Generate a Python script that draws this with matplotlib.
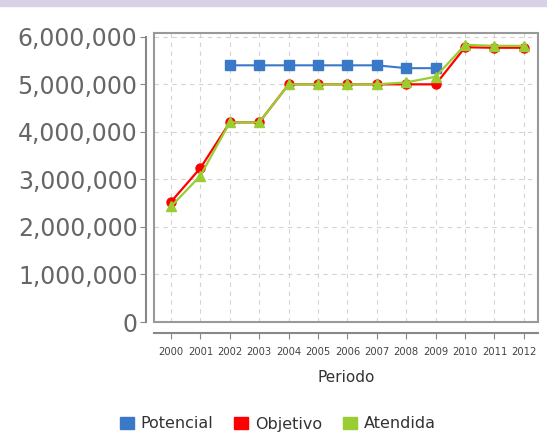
import matplotlib.pyplot as plt
from matplotlib.patches import Rectangle
from matplotlib.ticker import FuncFormatter

# data
periodos = ['2000', '2001', '2002', '2003', '2004', '2005', '2006',
            '2007', '2008', '2009', '2010', '2011', '2012']
potencial = [None, None, 5.40e6, 5.40e6, 5.40e6, 5.40e6, 5.40e6,
             5.40e6, 5.34e6, 5.34e6, None, None, None]
objetivo = [2.53e6, 3.24e6, 4.20e6, 4.20e6, 5.00e6, 5.00e6, 5.00e6,
            5.00e6, 5.00e6, 5.00e6, 5.78e6, 5.77e6, 5.77e6]
atendida = [2.43e6, 3.08e6, 4.20e6, 4.20e6, 5.00e6, 5.00e6, 5.00e6,
            5.00e6, 5.04e6, 5.16e6, 5.83e6, 5.81e6, 5.81e6]

azul = '#3a78c8'
rojo = '#ff0000'
verde = '#9acd32'

fig = plt.figure(figsize=(5.47, 4.34), dpi=100)
fig.patches.append(Rectangle((0, 1 - 6 / 434), 1, 6 / 434, transform=fig.transFigure,
                             color='#d8d0e4', zorder=0))
ax = fig.add_axes([154 / 547, 1 - 322 / 434, (538 - 154) / 547, (322 - 33) / 434])

x = list(range(len(periodos)))
pot_x = [i for i, v in zip(x, potencial) if v is not None]
pot_y = [v for v in potencial if v is not None]
ax.plot(pot_x, pot_y, color=azul, lw=1.5, marker='s', ms=7, zorder=3)
ax.plot(x, objetivo, color=rojo, lw=1.6, marker='o', ms=6.5, zorder=4)
ax.plot(x, atendida, color=verde, lw=1.6, marker='^', ms=7.5, zorder=5)

ax.set_xlim(-0.58, 12.48)
ax.set_ylim(0, 6.08e6)
ax.set_xticks(x)
ax.set_xticklabels(periodos)
ax.set_yticks([0, 1e6, 2e6, 3e6, 4e6, 5e6, 6e6])
ax.yaxis.set_major_formatter(FuncFormatter(lambda v, p: '{:,.0f}'.format(v)))
ax.tick_params(axis='y', labelsize=17, labelcolor='#666666', length=4,
               color='#888888', pad=2)
ax.tick_params(axis='x', labelsize=7.2, labelcolor='#444444', length=4,
               color='#888888', pad=6)
ax.grid(True, color='#d4d4d4', ls=(0, (4, 4)), lw=0.8)

# plot box plus offset axis lines
for s in ['top', 'right']:
    ax.spines[s].set_visible(False)
ax.spines['left'].set_position(('outward', 5.8))
ax.spines['bottom'].set_position(('outward', 8))
ax.spines['left'].set_bounds(0, 6e6)
for s in ['left', 'bottom']:
    ax.spines[s].set_color('#888888')
    ax.spines[s].set_linewidth(1.5)
ax.add_patch(Rectangle((0, 0), 1, 1, transform=ax.transAxes, fill=False,
                       ec='#999999', lw=1.5, clip_on=False, zorder=6))

ax.set_xlabel('Periodo', fontsize=11, color='#333333', labelpad=9)

handles = [Rectangle((0, 0), 1, 1, color=c) for c in [azul, rojo, verde]]
fig.legend(handles, ['Potencial', 'Objetivo', 'Atendida'], loc='center',
           bbox_to_anchor=(0.508, 1 - 424 / 434), ncol=3, frameon=False,
           fontsize=11.5, handlelength=0.85, handleheight=0.85, handletextpad=0.45,
           columnspacing=1.3)
for t in fig.legends[0].get_texts():
    t.set_color('#333333')

fig.savefig('out.png', dpi=100)
